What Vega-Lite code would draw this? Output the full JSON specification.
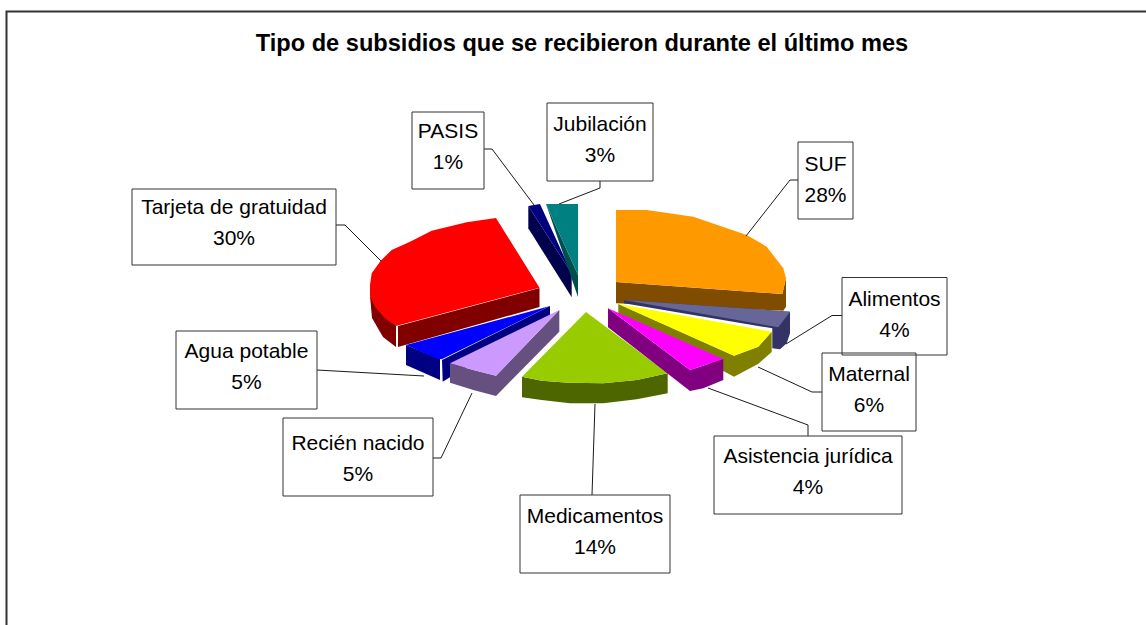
{"$schema":"https://vega.github.io/schema/vega-lite/v6.json","width":1146,"height":625,"padding":0,"autosize":"none","background":"white",
"title":{"text":"Tipo de subsidios que se recibieron durante el último mes","font":"Liberation Sans","fontSize":23.6,"fontWeight":"bold","color":"#000000","anchor":"middle","offset":-56,"dx":9},
"config":{"view":{"stroke":null}},
"layer":[
{"data":{"values":[{"line":"frame","x":1146,"y":11.5,"o":1},{"line":"frame","x":6.5,"y":11.5,"o":2},{"line":"frame","x":6.5,"y":625,"o":3}]},
"mark":{"type":"line","stroke":"#333333","strokeWidth":2},
"encoding":{"x":{"field":"x","type":"quantitative","scale":{"domain":[0,1146]},"axis":null},"y":{"field":"y","type":"quantitative","scale":{"domain":[625,0]},"axis":null},"detail":{"field":"line"},"order":{"field":"o"}}},
{"data":{"values":[
{"poly":"Red outer","x":370,"y":296},{"poly":"Red outer","x":396,"y":326},{"poly":"Red outer","x":396,"y":347},{"poly":"Red outer","x":383,"y":337},{"poly":"Red outer","x":372,"y":318},
{"poly":"Red front","x":398,"y":326},{"poly":"Red front","x":539.5,"y":288},{"poly":"Red front","x":539.5,"y":307},{"poly":"Red front","x":398,"y":347},
{"poly":"Red top","x":496,"y":218},{"poly":"Red top","x":539.5,"y":287.7},{"poly":"Red top","x":396,"y":326},{"poly":"Red top","x":385,"y":318.3},{"poly":"Red top","x":375,"y":306.7},{"poly":"Red top","x":370,"y":296},{"poly":"Red top","x":370,"y":285},{"poly":"Red top","x":371.7,"y":273.3},{"poly":"Red top","x":380.7,"y":260.7},{"poly":"Red top","x":391.7,"y":250},{"poly":"Red top","x":410,"y":241.7},{"poly":"Red top","x":431.7,"y":230.7},{"poly":"Red top","x":466.7,"y":222.3},
{"poly":"Blue outer","x":406,"y":345},{"poly":"Blue outer","x":440,"y":359},{"poly":"Blue outer","x":440,"y":380},{"poly":"Blue outer","x":406,"y":365},
{"poly":"Blue front","x":550,"y":306},{"poly":"Blue front","x":550,"y":315},{"poly":"Blue front","x":442.7,"y":381.7},{"poly":"Blue front","x":442,"y":360},
{"poly":"Blue top","x":550,"y":306},{"poly":"Blue top","x":441.7,"y":359.3},{"poly":"Blue top","x":437.3,"y":358.7},{"poly":"Blue top","x":406,"y":345},
{"poly":"Lilac outer","x":450,"y":363.3},{"poly":"Lilac outer","x":473.3,"y":370},{"poly":"Lilac outer","x":496,"y":375.7},{"poly":"Lilac outer","x":496,"y":396},{"poly":"Lilac outer","x":473.3,"y":390},{"poly":"Lilac outer","x":450,"y":382.7},
{"poly":"Lilac front","x":559.3,"y":310},{"poly":"Lilac front","x":559.3,"y":331.7},{"poly":"Lilac front","x":496,"y":396},{"poly":"Lilac front","x":496,"y":375.7},
{"poly":"Lilac top","x":559.3,"y":310},{"poly":"Lilac top","x":496,"y":375.7},{"poly":"Lilac top","x":473.3,"y":370},{"poly":"Lilac top","x":450,"y":363.3},
{"poly":"Green side","x":522,"y":376.7},{"poly":"Green side","x":541.7,"y":380.7},{"poly":"Green side","x":568.3,"y":382.7},{"poly":"Green side","x":603.3,"y":383.3},{"poly":"Green side","x":636.7,"y":380},{"poly":"Green side","x":667.7,"y":373.3},{"poly":"Green side","x":667.7,"y":393.3},{"poly":"Green side","x":636.7,"y":399.3},{"poly":"Green side","x":603.3,"y":403.3},{"poly":"Green side","x":570,"y":403.3},{"poly":"Green side","x":541.7,"y":400},{"poly":"Green side","x":522,"y":397.3},
{"poly":"Green top","x":586,"y":312},{"poly":"Green top","x":667.7,"y":373.3},{"poly":"Green top","x":636.7,"y":380},{"poly":"Green top","x":603.3,"y":383.3},{"poly":"Green top","x":568.3,"y":382.7},{"poly":"Green top","x":541.7,"y":380.7},{"poly":"Green top","x":522,"y":376.7},
{"poly":"Orange side","x":616,"y":282},{"poly":"Orange side","x":782.3,"y":294},{"poly":"Orange side","x":786,"y":278.3},{"poly":"Orange side","x":786,"y":306.7},{"poly":"Orange side","x":783.3,"y":310.7},{"poly":"Orange side","x":616,"y":303.3},
{"poly":"Orange top","x":616,"y":210},{"poly":"Orange top","x":646.7,"y":210},{"poly":"Orange top","x":693.3,"y":216.7},{"poly":"Orange top","x":746.7,"y":235},{"poly":"Orange top","x":766.7,"y":246.7},{"poly":"Orange top","x":783.3,"y":268.3},{"poly":"Orange top","x":786,"y":278.3},{"poly":"Orange top","x":782.3,"y":294},{"poly":"Orange top","x":616,"y":282},
{"poly":"Slate side","x":624,"y":300},{"poly":"Slate side","x":624,"y":303.3},{"poly":"Slate side","x":772.3,"y":328.3},{"poly":"Slate side","x":772.3,"y":348.3},{"poly":"Slate side","x":780,"y":349.3},{"poly":"Slate side","x":786.7,"y":343.3},{"poly":"Slate side","x":790,"y":333.3},{"poly":"Slate side","x":790,"y":311.7},
{"poly":"Slate top","x":624,"y":300},{"poly":"Slate top","x":790,"y":311.7},{"poly":"Slate top","x":778.3,"y":327.3},
{"poly":"Yellow front","x":618.3,"y":304},{"poly":"Yellow front","x":734,"y":355.7},{"poly":"Yellow front","x":734,"y":376.7},{"poly":"Yellow front","x":618.3,"y":315},
{"poly":"Yellow outer","x":734,"y":355.7},{"poly":"Yellow outer","x":758.3,"y":346.7},{"poly":"Yellow outer","x":771.7,"y":331.7},{"poly":"Yellow outer","x":771.7,"y":352},{"poly":"Yellow outer","x":758,"y":364},{"poly":"Yellow outer","x":734,"y":376.7},
{"poly":"Yellow top","x":618.3,"y":304},{"poly":"Yellow top","x":771.7,"y":331.7},{"poly":"Yellow top","x":758.3,"y":346.7},{"poly":"Yellow top","x":734,"y":355.7},
{"poly":"Magenta front","x":608,"y":308.3},{"poly":"Magenta front","x":690,"y":370},{"poly":"Magenta front","x":690,"y":391},{"poly":"Magenta front","x":608,"y":327.3},
{"poly":"Magenta outer","x":690,"y":370},{"poly":"Magenta outer","x":723.3,"y":359},{"poly":"Magenta outer","x":723.3,"y":380},{"poly":"Magenta outer","x":703.3,"y":388.3},{"poly":"Magenta outer","x":690,"y":391},
{"poly":"Magenta top","x":608,"y":308.3},{"poly":"Magenta top","x":723.3,"y":359},{"poly":"Magenta top","x":690,"y":370},
{"poly":"Navy side","x":528.3,"y":206},{"poly":"Navy side","x":528.3,"y":228.3},{"poly":"Navy side","x":571.7,"y":297.3},{"poly":"Navy side","x":571.7,"y":273.3},
{"poly":"Navy top","x":528.3,"y":206},{"poly":"Navy top","x":540,"y":204},{"poly":"Navy top","x":571.7,"y":273.3},
{"poly":"Teal side","x":546,"y":204},{"poly":"Teal side","x":578,"y":275},{"poly":"Teal side","x":578,"y":297},
{"poly":"Teal top","x":546,"y":204},{"poly":"Teal top","x":578,"y":204},{"poly":"Teal top","x":578,"y":275}
]},
"transform":[{"window":[{"op":"row_number","as":"vertex"}]}],
"mark":{"type":"line","filled":true,"interpolate":"linear-closed"},
"encoding":{"x":{"field":"x","type":"quantitative","scale":{"domain":[0,1146]},"axis":null},"y":{"field":"y","type":"quantitative","scale":{"domain":[625,0]},"axis":null},"order":{"field":"vertex"},
"color":{"field":"poly","type":"nominal","legend":null,"scale":{
"domain":["Red outer","Red front","Red top","Blue outer","Blue front","Blue top","Lilac outer","Lilac front","Lilac top","Green side","Green top","Orange side","Orange top","Slate side","Slate top","Yellow front","Yellow outer","Yellow top","Magenta front","Magenta outer","Magenta top","Navy side","Navy top","Teal side","Teal top"],
"range":["#800000","#800000","#ff0000","#000080","#000080","#0000ff","#665080","#665080","#cc99ff","#4d6600","#99cc00","#804d00","#ff9900","#333366","#666699","#808000","#808000","#ffff00","#800080","#800080","#ff00ff","#00004d","#000080","#004d4d","#008080"]}}}},
{"data":{"values":[
{"line":"SUF","x":798,"y":180,"o":1},{"line":"SUF","x":790,"y":180,"o":2},{"line":"SUF","x":746,"y":236,"o":3},
{"line":"Alimentos","x":842,"y":315.5,"o":1},{"line":"Alimentos","x":832,"y":315.5,"o":2},{"line":"Alimentos","x":786,"y":344,"o":3},
{"line":"Maternal","x":822,"y":392,"o":1},{"line":"Maternal","x":812,"y":392,"o":2},{"line":"Maternal","x":758,"y":367,"o":3},
{"line":"Asistencia","x":808,"y":436,"o":1},{"line":"Asistencia","x":808,"y":425,"o":2},{"line":"Asistencia","x":708,"y":388,"o":3},
{"line":"Medicamentos","x":592,"y":495,"o":1},{"line":"Medicamentos","x":595,"y":404,"o":2},
{"line":"Recien","x":433,"y":458,"o":1},{"line":"Recien","x":441,"y":458,"o":2},{"line":"Recien","x":472,"y":393,"o":3},
{"line":"Agua","x":317,"y":370,"o":1},{"line":"Agua","x":424,"y":376,"o":2},
{"line":"Tarjeta","x":336,"y":225,"o":1},{"line":"Tarjeta","x":345,"y":225,"o":2},{"line":"Tarjeta","x":381,"y":261,"o":3},
{"line":"PASIS","x":484,"y":149,"o":1},{"line":"PASIS","x":492,"y":149,"o":2},{"line":"PASIS","x":534,"y":205,"o":3},
{"line":"Jubilacion","x":600,"y":181,"o":1},{"line":"Jubilacion","x":600,"y":188,"o":2},{"line":"Jubilacion","x":559,"y":204,"o":3}
]},
"mark":{"type":"line","stroke":"#1a1a1a","strokeWidth":1},
"encoding":{"x":{"field":"x","type":"quantitative","scale":{"domain":[0,1146]},"axis":null},"y":{"field":"y","type":"quantitative","scale":{"domain":[625,0]},"axis":null},"detail":{"field":"line"},"order":{"field":"o"}}},
{"data":{"values":[
{"name":"SUF","pct":28,"label":"SUF\n28%","x0":798,"x1":853,"y0":142,"y1":219,"cx":825.5,"cy":165},
{"name":"Alimentos","pct":4,"label":"Alimentos\n4%","x0":842,"x1":947,"y0":277.5,"y1":355,"cx":894.5,"cy":300},
{"name":"Maternal","pct":6,"label":"Maternal\n6%","x0":822,"x1":916,"y0":353,"y1":431,"cx":869,"cy":375},
{"name":"Asistencia jurídica","pct":4,"label":"Asistencia jurídica\n4%","x0":714,"x1":902,"y0":436,"y1":514,"cx":808,"cy":457},
{"name":"Medicamentos","pct":14,"label":"Medicamentos\n14%","x0":520,"x1":670,"y0":495,"y1":573,"cx":595,"cy":517},
{"name":"Recién nacido","pct":5,"label":"Recién nacido\n5%","x0":283,"x1":433,"y0":418,"y1":496,"cx":358,"cy":444},
{"name":"Agua potable","pct":5,"label":"Agua potable\n5%","x0":176,"x1":317,"y0":331,"y1":409,"cx":246.5,"cy":352},
{"name":"Tarjeta de gratuidad","pct":30,"label":"Tarjeta de gratuidad\n30%","x0":132,"x1":336,"y0":189,"y1":265,"cx":234,"cy":208},
{"name":"PASIS","pct":1,"label":"PASIS\n1%","x0":412,"x1":484,"y0":112,"y1":189,"cx":448,"cy":132},
{"name":"Jubilación","pct":3,"label":"Jubilación\n3%","x0":547,"x1":653,"y0":103,"y1":181,"cx":600,"cy":125}
]},
"layer":[
{"mark":{"type":"rect","fill":"#ffffff","fillOpacity":0,"stroke":"#333333","strokeWidth":1},
"encoding":{"x":{"field":"x0","type":"quantitative","scale":{"domain":[0,1146]},"axis":null},"x2":{"field":"x1"},"y":{"field":"y0","type":"quantitative","scale":{"domain":[625,0]},"axis":null},"y2":{"field":"y1"}}},
{"mark":{"type":"text","font":"Liberation Sans","fontSize":21,"color":"#000000","align":"center","baseline":"middle","lineBreak":"\n","lineHeight":31},
"encoding":{"x":{"field":"cx","type":"quantitative","scale":{"domain":[0,1146]},"axis":null},"y":{"field":"cy","type":"quantitative","scale":{"domain":[625,0]},"axis":null},"text":{"field":"label"}}}
]}
]}
